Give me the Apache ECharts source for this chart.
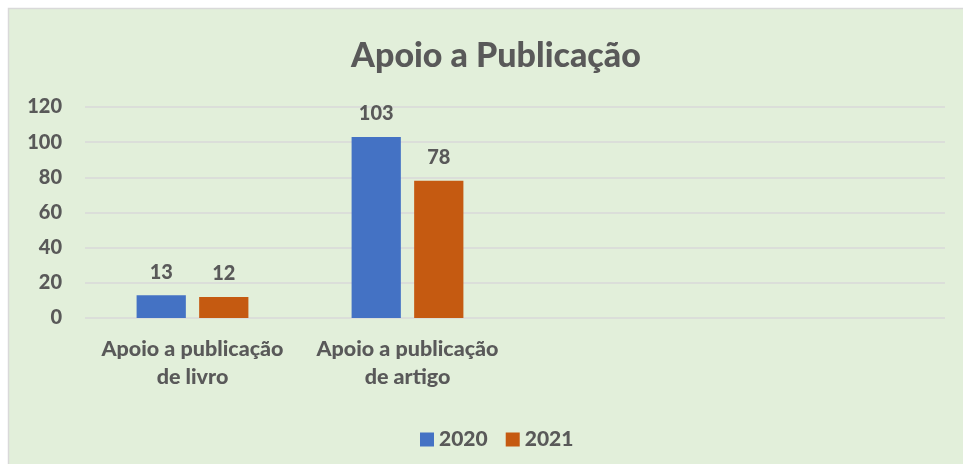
<!DOCTYPE html>
<html>
<head>
<meta charset="utf-8">
<script src="https://cdn.jsdelivr.net/npm/echarts@6/dist/echarts.min.js"></script>
<style>
html,body{margin:0;padding:0;background:#fff;}
#c{width:963px;height:464px;}
</style>
</head>
<body>
<div id="c"></div>
<script>
const title = "Apoio a Publicação";
const categories = ["Apoio a publicação\nde livro", "Apoio a publicação\nde artigo", "", ""];
const seriesNames = ["2020", "2021"];
const values2020 = [13, 103, null, null];
const values2021 = [12, 78, null, null];
const yTicks = [0, 20, 40, 60, 80, 100, 120];

const txt = "#595959";
const font = "Lato, 'Open Sans', sans-serif";
const W = 900;
const chart = echarts.init(document.getElementById('c'));
chart.setOption({
  backgroundColor: '#ffffff',
  animation: false,
  graphic: [{
    type: 'rect', z: -10, silent: true,
    shape: {x: 8.5, y: 8.5, width: 960, height: 460},
    style: {fill: '#E2EFDA', stroke: '#D9D9D9', lineWidth: 1.5}
  }],
  title: {
    text: title, left: 491, textAlign: 'center', top: 34,
    textStyle: {fontFamily: font, fontWeight: W, fontSize: 34, color: txt}
  },
  legend: {
    data: seriesNames, left: 415, top: 424, itemWidth: 14, itemHeight: 14, itemGap: 18,
    icon: 'rect',
    textStyle: {fontFamily: font, fontWeight: W, fontSize: 21, color: txt}
  },
  grid: {left: 85, right: 18, top: 107, bottom: 146, containLabel: false},
  xAxis: {
    type: 'category', data: categories,
    axisLine: {show: false}, axisTick: {show: false},
    axisLabel: {fontFamily: font, fontWeight: W, fontSize: 21.5, color: txt, lineHeight: 28, margin: 17, interval: 0}
  },
  yAxis: {
    type: 'value', min: yTicks[0], max: yTicks[yTicks.length-1], interval: 20,
    axisLine: {show: false}, axisTick: {show: false},
    axisLabel: {fontFamily: font, fontWeight: W, fontSize: 20, color: txt, margin: 23},
    splitLine: {lineStyle: {color: '#D9D9D9', width: 1.5}}
  },
  series: [
    {name: seriesNames[0], type: 'bar', data: values2020, barGap: '27%', barCategoryGap: '48%',
     itemStyle: {color: '#4472C4'},
     label: {show: true, position: 'top', distance: 13, fontFamily: font, fontWeight: W, fontSize: 20, color: txt}},
    {name: seriesNames[1], type: 'bar', data: values2021,
     itemStyle: {color: '#C55A11'},
     label: {show: true, position: 'top', distance: 13, fontFamily: font, fontWeight: W, fontSize: 20, color: txt}}
  ]
});
</script>
</body>
</html>
